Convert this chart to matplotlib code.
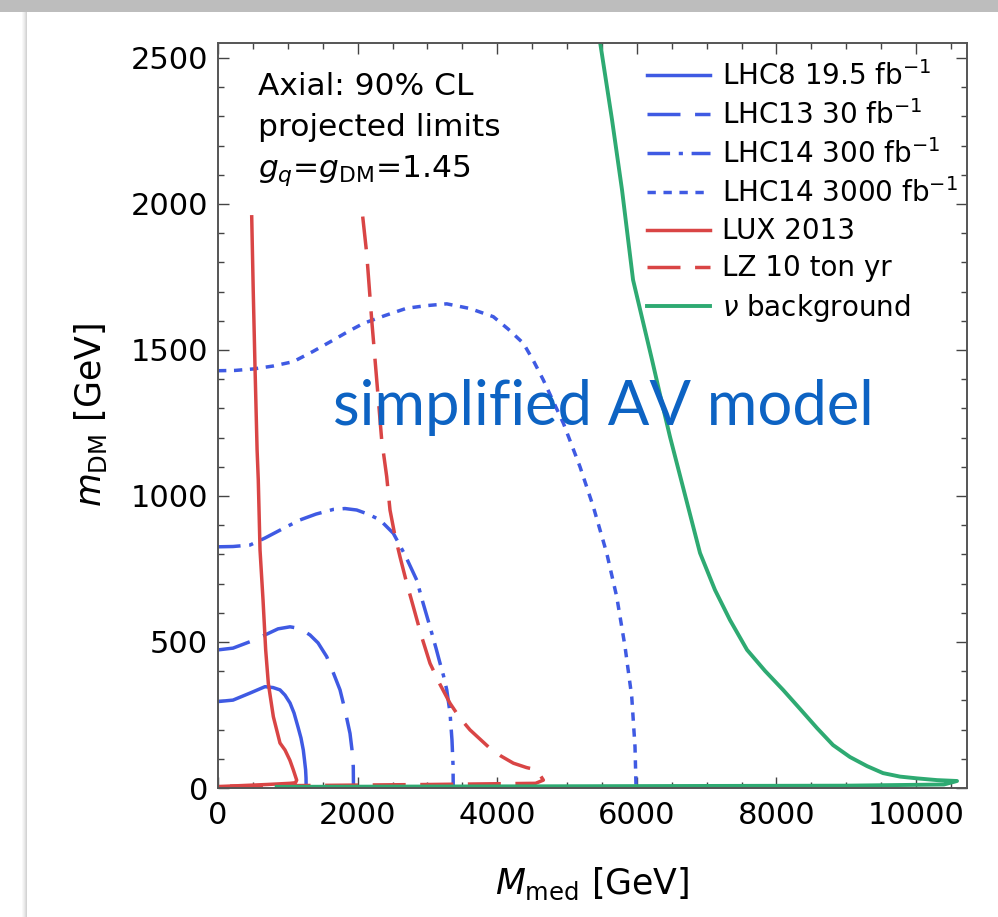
import matplotlib
matplotlib.use("Agg")
import matplotlib.pyplot as plt
from matplotlib.patches import Rectangle
from matplotlib.ticker import MultipleLocator

plt.rcParams['font.family'] = ['DejaVu Sans']
plt.rcParams['mathtext.fontset'] = 'dejavusans'

# ---------------- data (GeV) ----------------
lhc8_x = [0, 215, 458, 673, 788, 888, 960, 1032, 1089, 1146, 1189, 1222, 1239, 1255, 1261, 1263]
lhc8_y = [296, 301, 325, 347, 344, 336, 318, 291, 257, 209, 171, 130, 96, 62, 34, 0]

lhc13_x = [0, 215, 458, 673, 860, 1032, 1175, 1318, 1433, 1557, 1648, 1748, 1819, 1891, 1920, 1938, 1941]
lhc13_y = [473, 479, 501, 524, 545, 552, 546, 524, 497, 450, 397, 336, 267, 187, 130, 73, 0]

lhc14a_x = [0, 215, 458, 673, 936, 1175, 1404, 1652, 1819, 1987, 2149, 2321, 2512, 2679, 2847,
            2937, 3037, 3123, 3181, 3231, 3277, 3324, 3352, 3367, 3370]
lhc14a_y = [826, 827, 832, 856, 889, 918, 938, 954, 957, 952, 938, 918, 872, 798, 712,
            634, 552, 479, 427, 384, 336, 257, 164, 79, 0]

lhc14b_x = [0, 244, 506, 788, 1079, 1361, 1652, 1862, 2082, 2393, 2703, 2990, 3277, 3610, 3944,
            4155, 4374, 4517, 4661, 4948, 5186, 5377, 5569, 5712, 5831, 5927, 5974, 5989]
lhc14b_y = [1429, 1430, 1435, 1445, 1460, 1495, 1534, 1563, 1591, 1618, 1643, 1652, 1658, 1642, 1614,
            1572, 1523, 1464, 1397, 1249, 1100, 963, 804, 655, 484, 313, 141, 0]

lux_x = [483, 505, 530, 560, 577, 602, 645, 683, 721, 793, 888, 960, 1030, 1079, 1127, 1110, 1030, 700, 215, 0]
lux_y = [1956, 1700, 1443, 1158, 1055, 815, 644, 473, 358, 244, 154, 130, 95, 62, 27, 18, 16, 12, 7, 5]

lz_x = [2073, 2130, 2202, 2274, 2345, 2417, 2464, 2530, 2607, 2700, 2798, 2915, 3037, 3180, 3324,
        3465, 3610, 3873, 4050, 4231, 4420, 4566, 4661, 4550, 3000, 1000, 0]
lz_y = [1957, 1831, 1603, 1397, 1192, 1066, 952, 870, 792, 705, 621, 520, 427, 355, 290,
        240, 199, 141, 110, 85, 70, 62, 27, 16, 12, 8, 6]

nu_x = [5473, 5645, 5788, 5946, 6089, 6218, 6347, 6476, 6691, 6905, 7120, 7335, 7579, 7837, 8095,
        8338, 8582, 8811, 9054, 9298, 9527, 9771, 10014, 10301, 10587, 10400, 9000, 5000, 840]
nu_y = [2555, 2288, 2048, 1740, 1596, 1466, 1332, 1202, 1003, 805, 678, 575, 473, 401, 336,
        271, 205, 147, 106, 75, 51, 39, 33, 27, 24, 12, 8, 6, 4]

labels = [r"LHC8 19.5 fb$^{-1}$", r"LHC13 30 fb$^{-1}$", r"LHC14 300 fb$^{-1}$",
          r"LHC14 3000 fb$^{-1}$", "LUX 2013", "LZ 10 ton yr", r"$\nu$ background"]

info_lines = ["Axial: 90% CL", "projected limits", r"$g_q$=$g_{\rm DM}$=1.45"]

BLUE = '#3f5ae3'
RED = '#d94545'
GREEN = '#2eaa72'

W, H = 998, 917
fig = plt.figure(figsize=(W / 100, H / 100), dpi=100)
fig.patch.set_facecolor('white')

# slide decorations: grey top band and left shadow
fig.patches.append(Rectangle((0, 1 - 12 / H), 1, 12 / H, transform=fig.transFigure,
                             facecolor='#bdbdbd', edgecolor='none', zorder=0))
for i, a in enumerate([0.05, 0.1, 0.16, 0.24, 0.32]):
    fig.patches.append(Rectangle(((22 + i) / W, 0), 1 / W, 1 - 12 / H, transform=fig.transFigure,
                                 facecolor='#777777', alpha=a, edgecolor='none', zorder=0))

ax = fig.add_axes([218 / W, (H - 788) / H, 749 / W, 745.5 / H])
lw = 2.5
ax.plot(lhc8_x, lhc8_y, color=BLUE, lw=lw, label=labels[0])
ax.plot(lhc13_x, lhc13_y, color=BLUE, lw=lw, dashes=(9.5, 4.2), label=labels[1])
ax.plot(lhc14a_x, lhc14a_y, color=BLUE, lw=lw, dashes=(6.5, 2.5, 1.2, 2.5), label=labels[2])
ax.plot(lhc14b_x, lhc14b_y, color=BLUE, lw=lw, dashes=(2.4, 2.2), label=labels[3])
ax.plot(lux_x, lux_y, color=RED, lw=lw, label=labels[4])
ax.plot(lz_x, lz_y, color=RED, lw=lw, dashes=(9.5, 4.2), label=labels[5])
ax.plot(nu_x, nu_y, color=GREEN, lw=2.8, label=labels[6])

ax.set_xlim(0, 10730)
ax.set_ylim(0, 2553)
ax.xaxis.set_major_locator(MultipleLocator(2000))
ax.xaxis.set_minor_locator(MultipleLocator(500))
ax.yaxis.set_major_locator(MultipleLocator(500))
ax.yaxis.set_minor_locator(MultipleLocator(100))
ax.tick_params(which='both', direction='in', top=True, right=True, color='#444444', width=1.0)
ax.tick_params(which='major', length=8, labelsize=22)
ax.tick_params(axis='x', which='major', pad=9)
ax.tick_params(axis='y', which='major', pad=7)
ax.tick_params(which='minor', length=4.5)
for s in ax.spines.values():
    s.set_color('#555555')
    s.set_linewidth(1.4)

ax.set_xlabel(r"$M_{\rm med}$ [GeV]", fontsize=25, labelpad=26)
ax.set_ylabel(r"$m_{\rm DM}$ [GeV]", fontsize=25, labelpad=16)

leg = ax.legend(loc='upper left', bbox_to_anchor=((647 - 218) / 749, (788 - 61) / 745.5),
                frameon=False, fontsize=20, handlelength=2.25, handletextpad=0.45,
                labelspacing=0.33, borderpad=0, borderaxespad=0)

for line, base in zip(info_lines, [95, 136, 177]):
    ax.text((258 - 218) / 749, (788 - base) / 745.5, line,
            transform=ax.transAxes, fontsize=22.5, va='baseline', ha='left')

ax.text((333 - 218) / 749, (788 - 425) / 745.5, "simplified AV model", transform=ax.transAxes,
        fontsize=44.3, family=['Lato', 'DejaVu Sans'], color='#0d63c3', va='baseline', ha='left')

fig.savefig("out.png", dpi=100)
